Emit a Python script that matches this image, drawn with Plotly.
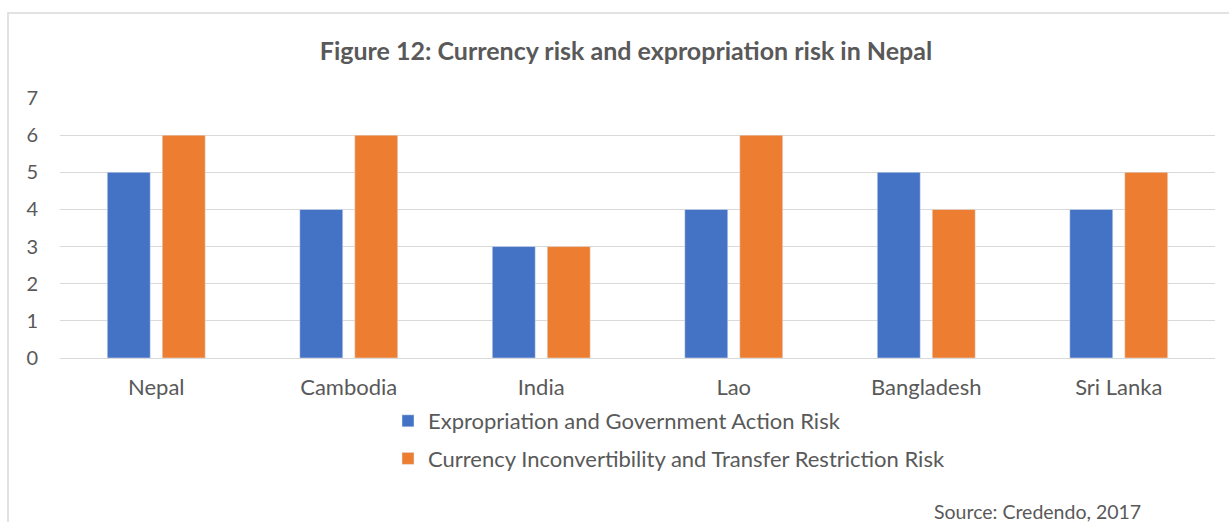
import plotly.graph_objects as go

categories = ["Nepal", "Cambodia", "India", "Lao", "Bangladesh", "Sri Lanka"]
expropriation = [5, 4, 3, 4, 5, 4]
currency = [6, 6, 3, 6, 4, 5]
series_names = ["Expropriation and Government Action Risk",
                "Currency Inconvertibility and Transfer Restriction Risk"]
y_ticks = [0, 1, 2, 3, 4, 5, 6, 7]

W, H = 1229, 522
L, R, T, B = 60, 14, 98, 164
pw, ph = W - L - R, H - T - B
txt = "#595959"
font = "Lato"

fig = go.Figure()
fig.add_trace(go.Bar(x=categories, y=expropriation, name=series_names[0],
                     marker_color="#4472C4", legendgroup="a"))
fig.add_trace(go.Bar(x=categories, y=currency, name=series_names[1],
                     marker_color="#ED7D31", legendgroup="b"))

fig.update_layout(
    width=W, height=H,
    margin=dict(l=L, r=R, t=T, b=B),
    paper_bgcolor="white", plot_bgcolor="white",
    barmode="group", bargap=0.429, bargroupgap=0.218,
    font=dict(family=font, color=txt, size=20),
    title=dict(text="<b>Figure 12: Currency risk and expropriation risk in Nepal</b>",
               x=626 / W, xanchor="center", y=1 - 51 / H, yanchor="middle",
               font=dict(size=25, color=txt, family=font)),
    xaxis=dict(showgrid=False, showline=False, ticks="",
               tickfont=dict(size=22, color=txt), ticklabelstandoff=14),
    yaxis=dict(range=[0, 7], tickvals=y_ticks, showgrid=True, gridcolor="#d9d9d9",
               gridwidth=1, zeroline=True, zerolinecolor="#d9d9d9", zerolinewidth=1,
               showline=False, ticks="", tickfont=dict(size=20, color=txt),
               ticklabelstandoff=21),
    legend=dict(orientation="v", x=(388 - L) / pw, xanchor="left",
                y=-(400 - T - ph) / ph, yanchor="top",
                traceorder="grouped", tracegroupgap=6,
                font=dict(size=22, color=txt), bgcolor="rgba(0,0,0,0)"),
    showlegend=True,
)

fig.add_shape(type="rect", xref="paper", yref="paper",
              x0=(8 - L) / pw, x1=(1240 - L) / pw,
              y0=-(530 - T - ph) / ph, y1=1 + (T - 13) / ph,
              line=dict(color="#d9d9d9", width=1.5), fillcolor="rgba(0,0,0,0)", layer="below")

fig.add_annotation(text="Source: Credendo, 2017", xref="paper", yref="paper",
                   x=(1143 - L) / pw, xanchor="right",
                   y=-(511 - T - ph) / ph, yanchor="middle",
                   showarrow=False, font=dict(size=19.5, color=txt, family=font))

fig.write_html("out.html", config={"displayModeBar": False},
               post_script="document.body.style.margin='0';document.body.style.padding='0';")
